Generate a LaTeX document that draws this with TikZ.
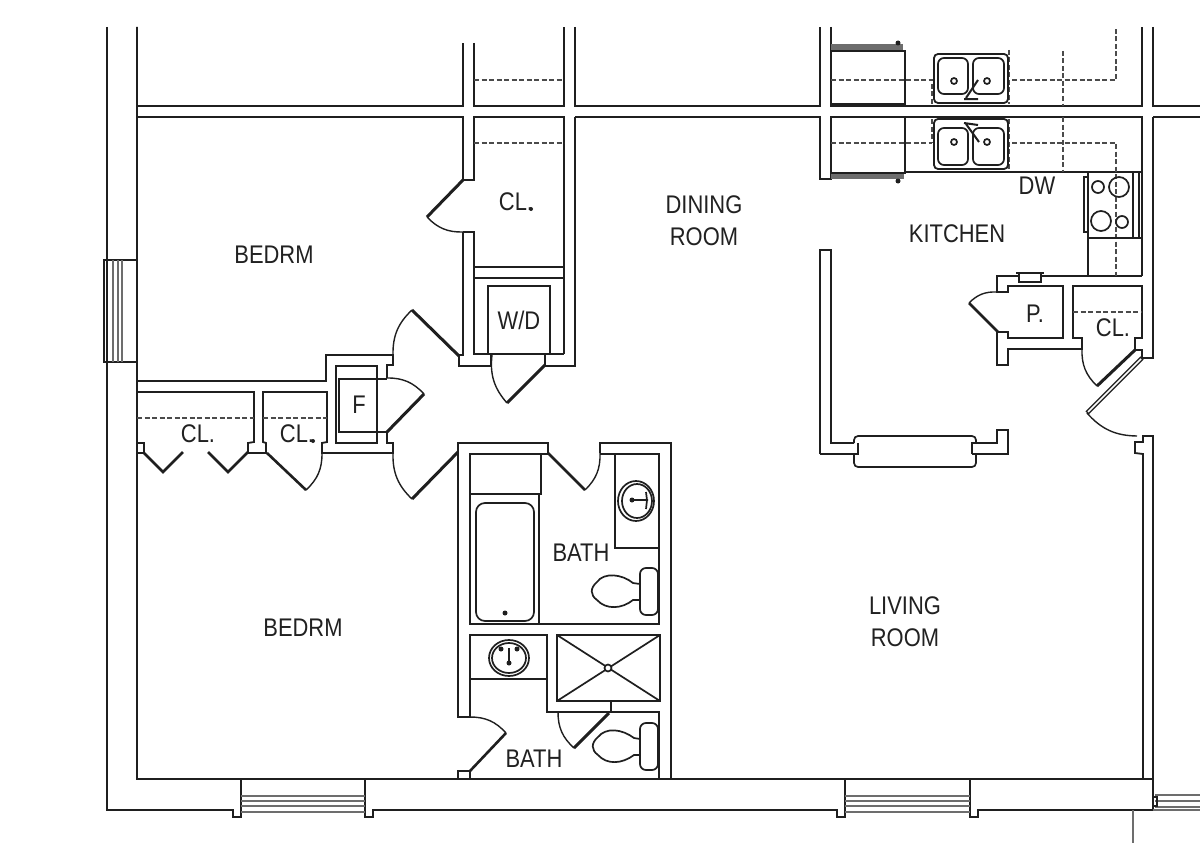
\documentclass[tikz,border=0pt]{standalone}
\usepackage{fontspec}
\setmainfont{Liberation Sans}[FakeStretch=0.86]
\usetikzlibrary{positioning}
\definecolor{inkwall}{gray}{0.12}
\definecolor{inktext}{gray}{0.13}
\tikzset{
    wall/.style={draw=inkwall,line width=1.8pt,line join=miter},
    leaf/.style={draw=inkwall,line width=3pt},
    swing/.style={draw=inkwall,line width=1.4pt},
    hidden/.style={draw=inkwall!80,line width=1.6pt,dash pattern=on 5pt off 2.5pt},
    glazing/.style={draw=inkwall!65,line width=1.8pt},
    fixture/.style={draw=inkwall,line width=1.7pt},
    roomlabel/.style={text=inktext,font=\fontsize{25.5}{32}\selectfont,align=center,inner sep=0pt}
}
\begin{document}
\begin{tikzpicture}[x=1pt,y=-1pt]
    \useasboundingbox[fill=white] (0,0) rectangle (1200,843);
    % Exterior
    \draw[wall] (107,27) -- (107,810) -- (233,810) -- (233,817) -- (241,817) -- (241,779);
    \draw[wall] (137,27) -- (137,779) -- (1153,779) -- (1153,436) -- (1143,436) -- (1143,442) -- (1135,442) -- (1135,453) -- (1143,454) -- (1143,779);
    \draw[wall] (365,779) -- (365,817) -- (373,817) -- (373,810) -- (837,810) -- (837,817) -- (845,817) -- (845,779);
    \draw[wall] (970,779) -- (970,817) -- (978,817) -- (978,810) -- (1153,810) -- (1153,779);
    \draw[wall,line width=2.2pt] (1092,810) -- (1153,810);
    \draw[wall,draw=inkwall!65] (1133,810) -- (1133,843);
    % Windows
    \draw[wall] (137,260) -- (104,260) -- (104,362) -- (137,362);
    \draw[glazing] (113,260) -- (113,362) (118,260) -- (118,362) (122,260) -- (122,362);
    \foreach \yy in {796,801,806,812} {
        \draw[glazing] (241,\yy) -- (365,\yy);
        \draw[glazing] (845,\yy) -- (970,\yy);
    }
    \draw[glazing] (1155,795) -- (1200,795) (1155,801) -- (1200,801) (1155,807) -- (1200,807) (1153,810) -- (1200,810);
    \draw[fixture] (1153,797) -- (1157,797) -- (1157,806) -- (1153,806);
    % Party wall and stubs above it
    \draw[wall] (137,106) -- (463,106) -- (463,43);
    \draw[wall] (474,43) -- (474,106) -- (564,106) -- (564,27);
    \draw[wall] (575,27) -- (575,106) -- (820,106) -- (820,27);
    \draw[wall] (831,27) -- (831,106) -- (1142,106) -- (1142,27);
    \draw[wall] (1153,27) -- (1153,106) -- (1200,106);
    \draw[wall] (137,117) -- (463,117) -- (463,180) -- (474,180) -- (474,117) -- (564,117) -- (564,354);
    \draw[wall] (575,117) -- (820,117) -- (820,179) -- (831,179) -- (831,117) -- (1142,117) -- (1142,276);
    \draw[wall] (575,117) -- (575,366) -- (545,366) -- (545,354);
    \draw[wall] (1153,117) -- (1200,117);
    \draw[wall] (1153,117) -- (1153,358) -- (1142,358) -- (1142,350) -- (1135,350) -- (1135,338) -- (1142,338) -- (1142,286) -- (1073,286) -- (1073,338) -- (1082,338) -- (1082,349) -- (1008,349) -- (1008,365) -- (997,365) -- (997,332) -- (1008,332) -- (1008,338) -- (1063,338) -- (1063,286) -- (1008,286) -- (1008,292) -- (997,292) -- (997,276) -- (1142,276);
    % Closet and laundry
    \draw[wall] (463,232) -- (474,232) -- (474,354) -- (564,354);
    \draw[wall] (463,232) -- (463,355) -- (459,355) -- (459,366) -- (491,366) -- (491,354);
    \draw[wall] (474,267) -- (564,267) (474,278) -- (564,278);
    \draw[wall] (488,354) -- (488,286) -- (550,286) -- (550,354);
    % Hall, bedroom closets, furnace
    \draw[wall] (137,381) -- (326,381) -- (326,355) -- (393,355) -- (393,365) -- (387,365) -- (387,378);
    \draw[wall] (137,392) -- (254,392) -- (254,442) -- (248,443) -- (248,453) -- (266,453) -- (266,443) -- (263,442) -- (263,392) -- (327,392) -- (327,442) -- (322,443) -- (322,453) -- (393,453) -- (393,443) -- (387,443) -- (387,432);
    \draw[wall] (137,443) -- (144,443) -- (144,453) -- (137,453);
    \draw[fixture] (336,366) rectangle (377,443);
    \draw[fixture] (338,379) -- (387,379) (338,432) -- (387,432);
    \draw[wall,line width=2.4pt] (339,379) -- (339,432);
    % Bathroom one
    \draw[wall] (548,453) -- (548,443) -- (458,443) -- (458,717) -- (470,717) -- (470,635) -- (547,635) -- (547,712) -- (659,712) -- (659,779);
    \draw[wall] (600,453) -- (600,443) -- (671,443) -- (671,779);
    \draw[wall] (548,454) -- (470,454) -- (470,624) -- (659,624) -- (659,454) -- (600,454);
    \draw[wall] (541,454) -- (541,494) -- (470,494);
    \draw[wall] (539,494) -- (539,624);
    \draw[fixture] (615,454) -- (615,548) -- (659,548);
    \draw[fixture,rounded corners=9pt] (476,503) rectangle (534,621);
    \fill[inkwall] (505,613) circle (2.5pt);
    \draw[fixture] (636,501) circle [x radius=18pt,y radius=20pt];
    \draw[fixture] (637,501) circle [x radius=15pt,y radius=17pt];
    \draw[fixture] (632,500) -- (648,500) (646,492) -- (647,500) -- (646,509);
    \fill[inkwall] (632,500) circle (2.5pt);
    \draw[fixture,rounded corners=6pt] (640,568) rectangle (658,615);
    \draw[fixture] (640,584) -- (633,583) .. controls (622,574) and (604,572) .. (597,582) .. controls (590,588) and (590,595) .. (597,600) .. controls (606,610) and (622,609) .. (633,600) -- (640,600) -- cycle;
    % Bathroom two
    \draw[wall] (470,679) -- (547,679);
    \draw[wall] (557,635) rectangle (660,701);
    \draw[fixture] (557,635) -- (660,701) (660,635) -- (557,701);
    \draw[fixture,fill=white] (608,668) circle (3.5pt);
    \draw[wall] (611,701) -- (611,712);
    \draw[fixture] (509,658) circle [x radius=20pt,y radius=18pt];
    \draw[fixture] (509,658) circle [x radius=17pt,y radius=15pt];
    \draw[fixture] (509,648) -- (509,662);
    \fill[inkwall] (501,649) circle (2.5pt) (517,649) circle (2.5pt) (509,663) circle (2.5pt);
    \draw[wall] (458,779) -- (458,771) -- (470,771) -- (470,779);
    \draw[fixture,rounded corners=6pt] (640,723) rectangle (658,770);
    \draw[fixture] (640,739) -- (634,738) .. controls (622,729) and (606,727) .. (598,737) .. controls (591,743) and (591,750) .. (598,755) .. controls (607,765) and (622,764) .. (634,755) -- (640,755) -- cycle;
    % Kitchen, living room stub and bay
    \draw[wall] (820,454) -- (820,250) -- (831,250) -- (831,443) -- (854,443);
    \draw[wall] (820,454) -- (858,454) -- (858,443);
    \draw[fixture,rounded corners=4pt] (854,443) -- (854,436) -- (976,436) -- (976,443);
    \draw[fixture,rounded corners=4pt] (854,454) -- (854,467) -- (976,467) -- (976,454);
    \draw[wall] (972,454) -- (972,443) -- (997,443) -- (997,430) -- (1008,430) -- (1008,454) -- (972,454);
    % Cabinets
    \draw[wall] (831,51) -- (905,51) -- (905,104) -- (831,104);
    \draw[wall,line width=2.3pt] (831,104) -- (905,104);
    \draw[glazing,line width=6pt] (831,47) -- (903,47);
    \fill[inkwall] (898,43) circle (2.5pt);
    \draw[wall] (905,117) -- (905,173) -- (831,173);
    \draw[glazing,line width=5pt] (831,176) -- (904,176);
    \fill[inkwall] (898,181) circle (2.5pt);
    \draw[wall] (905,172) -- (1142,172);
    % Hidden edges
    \draw[hidden] (474,80) -- (564,80);
    \draw[hidden] (474,143) -- (564,143);
    \draw[hidden] (137,418) -- (254,418);
    \draw[hidden] (263,418) -- (327,418);
    \draw[hidden] (1073,312) -- (1142,312);
    \draw[hidden] (831,80) -- (932,80) -- (932,104);
    \draw[hidden] (831,143) -- (932,143);
    \draw[hidden] (932,119) -- (932,143);
    \draw[hidden] (1009,50) -- (1009,104);
    \draw[hidden] (1009,119) -- (1009,170);
    \draw[hidden] (1012,80) -- (1116,80) -- (1116,27);
    \draw[hidden] (1012,143) -- (1116,143) -- (1116,276);
    \draw[hidden] (1063,51) -- (1063,106);
    \draw[hidden] (1063,117) -- (1063,172);
    % Sinks
    \draw[wall,rounded corners=4pt] (934,54) rectangle (1008,103);
    \draw[fixture,rounded corners=6pt] (938,58) rectangle (968,94);
    \draw[fixture,rounded corners=6pt] (973,58) rectangle (1004,94);
    \draw[fixture] (954,81) circle (3pt) (987,81) circle (3pt);
    \draw[fixture,line width=2pt] (966,98) -- (978,80) (964,99) -- (978,99);
    \draw[wall,rounded corners=4pt] (934,119) rectangle (1008,169);
    \draw[fixture,rounded corners=6pt] (938,128) rectangle (968,165);
    \draw[fixture,rounded corners=6pt] (973,128) rectangle (1004,165);
    \draw[fixture] (954,142) circle (3pt) (987,142) circle (3pt);
    \draw[fixture,line width=2pt] (966,124) -- (979,142) (964,123) -- (978,125);
    % Range
    \draw[wall] (1088,238) -- (1088,172) (1088,238) -- (1142,238);
    \draw[wall] (1088,238) -- (1088,276);
    \draw[wall] (1084,177) rectangle (1088,232);
    \draw[fixture,line width=2pt] (1133,172) -- (1133,238) (1139,172) -- (1139,238);
    \draw[fixture] (1098,187) circle (6pt) (1119,187) circle (10pt) (1101,221) circle (10pt) (1122,222) circle (6pt);
    % Small window above pantry
    \draw[fixture] (1016,273) -- (1044,273);
    \draw[fixture,fill=white] (1019,273) rectangle (1041,282);
    % Door leaves
    \draw[leaf] (463,180) -- (427,217);
    \draw[leaf] (459,356) -- (412,310);
    \draw[leaf] (424,394) -- (387,432);
    \draw[leaf] (458,452) -- (412,499);
    \draw[leaf] (545,365) -- (507,403);
    \draw[leaf,line width=2.6pt] (548,453) -- (585,490);
    \draw[leaf,line width=2.6pt] (267,453) -- (306,490);
    \draw[leaf,line width=2.6pt] (144,453) -- (163,472) -- (183,452);
    \draw[leaf,line width=2.6pt] (208,452) -- (228,472) -- (248,452);
    \draw[leaf,line width=2.6pt] (969,303) -- (998,332);
    \draw[leaf] (1135,350) -- (1097,386);
    \draw[leaf,line width=4.5pt] (1142,358) -- (1087,413);
    \draw[draw=white,line width=1.6pt] (1141,359) -- (1088,412);
    \draw[leaf] (609,713) -- (574,748);
    \draw[leaf,line width=2.6pt] (506,733) -- (470,771);
    % Door swings
    \draw[swing] (427,217) to[bend right=24] (463,232);
    \draw[swing] (412,310) to[bend right=24] (393,355);
    \draw[swing] (387,378) to[bend left=24] (424,394);
    \draw[swing] (393,453) to[bend right=24] (412,499);
    \draw[swing] (492,355) to[bend right=24] (507,403);
    \draw[swing] (600,453) to[bend left=24] (585,490);
    \draw[swing] (322,453) to[bend left=24] (306,490);
    \draw[swing] (997,292) to[bend right=24] (969,303);
    \draw[swing] (1082,349) to[bend right=24] (1097,386);
    \draw[swing] (1087,413) to[bend right=24] (1137,436);
    \draw[swing] (558,712) to[bend right=24] (574,748);
    \draw[swing] (470,717) to[bend left=24] (506,733);
    % Labels
    \node (bedrmtop) [roomlabel] at (274,255) {BEDRM};
    \node (bedrmlow) [roomlabel] at (303,628) {BEDRM};
    \node (dining) [roomlabel] at (704,221) {DINING\\ROOM};
    \node (kitchen) [roomlabel] at (957,234) {KITCHEN};
    \node (living) [roomlabel] at (905,622) {LIVING\\ROOM};
    \node (dw) [roomlabel] at (1037,186) {DW};
    \node (clmaster) [roomlabel] at (516,202) {CL.};
    \node (wd) [roomlabel] at (519,320) {W/D};
    \node (furnace) [roomlabel] at (359,405) {F};
    \node (clhalla) [roomlabel] at (198,434) {CL.};
    \node (clhallb) [roomlabel] at (297,434) {CL.};
    \node (bathtop) [roomlabel] at (581,553) {BATH};
    \node (bathlow) [roomlabel] at (534,759) {BATH};
    \node (pantry) [roomlabel] at (1035,314) {P.};
    \node (clentry) [roomlabel] at (1113,328) {CL.};
    \fill[inktext] (531,209) circle (2pt) (313,441) circle (2pt);
\end{tikzpicture}
\end{document}
